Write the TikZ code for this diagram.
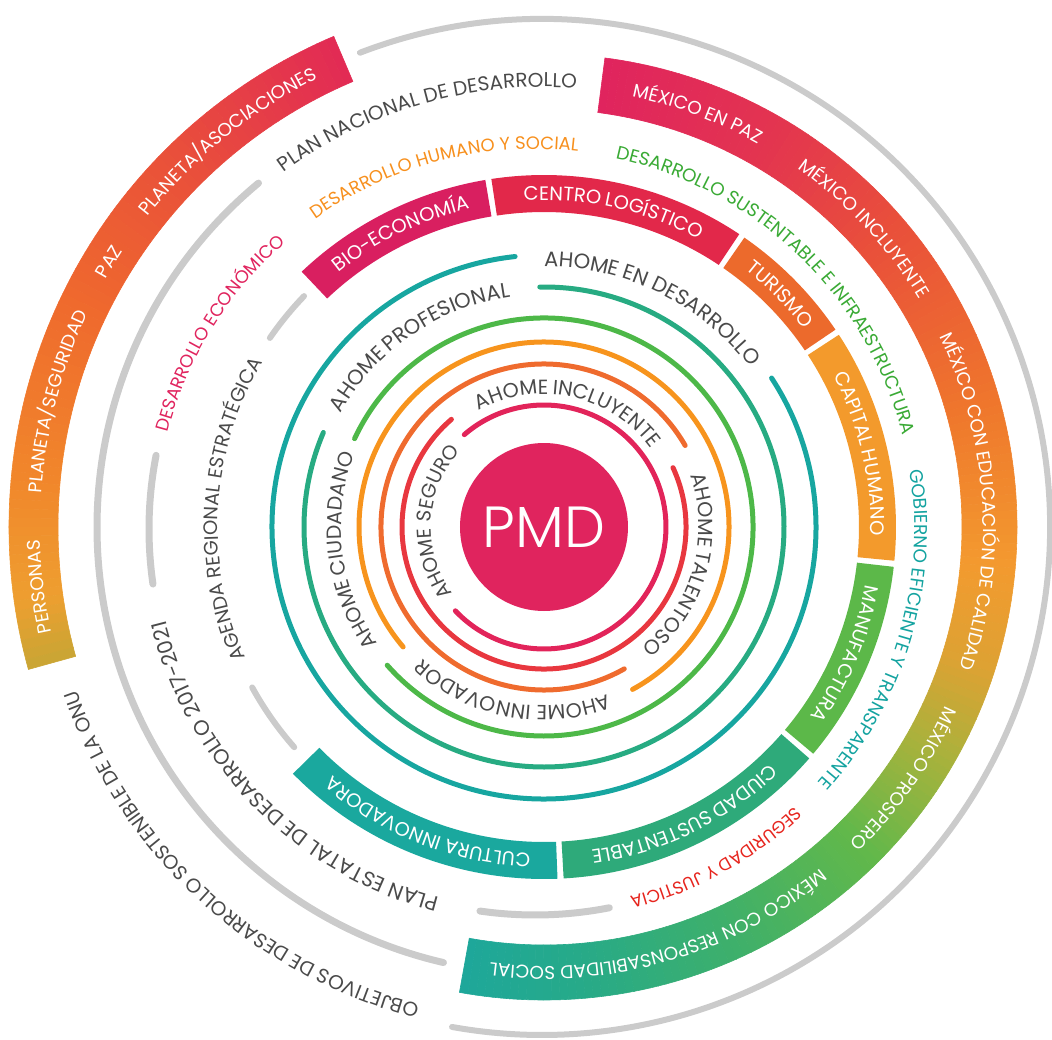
\documentclass[tikz,border=0pt]{standalone}
\usepackage{fontspec}
\newfontfamily\pf{Poppins}
\IfFontExistsTF{Poppins Light}{\newfontfamily\pfl{Poppins Light}}{\newfontfamily\pfl{Poppins}}
\usetikzlibrary{decorations.text}
\definecolor{pmdc}{HTML}{E0245E}
\definecolor{grayline}{HTML}{CBCBCB}
\definecolor{tgray}{HTML}{4A4A4A}
% ring A gradient stops
\definecolor{aA1}{HTML}{E22A55}
\definecolor{aA2}{HTML}{E9503A}
\definecolor{aA3}{HTML}{EF6A2D}
\definecolor{aA4}{HTML}{F1872B}
\definecolor{aA5}{HTML}{EE9E30}
\definecolor{aA6}{HTML}{C8A634}
% ring B gradient stops
\definecolor{bB1}{HTML}{E0245E}
\definecolor{bB2}{HTML}{E33450}
\definecolor{bB3}{HTML}{E9503A}
\definecolor{bB4}{HTML}{EF772C}
\definecolor{bB5}{HTML}{F39A2F}
\definecolor{bB6}{HTML}{DDA233}
\definecolor{bB7}{HTML}{A9B23C}
\definecolor{bB8}{HTML}{62B84A}
\definecolor{bB9}{HTML}{3FB06A}
\definecolor{bB10}{HTML}{27AA88}
\definecolor{bB11}{HTML}{1EA79A}
% ring C text colours
\definecolor{cEco}{HTML}{E0245E}
\definecolor{cHum}{HTML}{F7901E}
\definecolor{cSus}{HTML}{3AAA35}
\definecolor{cGob}{HTML}{14A3A0}
\definecolor{cSeg}{HTML}{E6251E}
% ring D segments
\definecolor{dBio}{HTML}{D91F60}
\definecolor{dCen}{HTML}{E2284A}
\definecolor{dTur}{HTML}{EC6A2C}
\definecolor{dCap}{HTML}{F39A2C}
\definecolor{dMan}{HTML}{5CB849}
\definecolor{dCiu}{HTML}{2EAA7A}
\definecolor{dCul}{HTML}{1AA89E}
% thin rings
\definecolor{rE}{HTML}{17A6A0}
\definecolor{rF}{HTML}{27AB82}
\definecolor{rG}{HTML}{4DB848}
\definecolor{rH}{HTML}{F7941D}
\definecolor{rI}{HTML}{EF6B2E}
\definecolor{rK}{HTML}{E8373F}
\definecolor{rJ}{HTML}{E2245A}

\tikzset{
  grayarc/.style={draw=grayline, line cap=round},
  thinring/.style={line width=5pt, line cap=round},
}

% gradient annular band: rin, rout, a1, a2, c1, c2
\newcommand\gband[6]{%
  \pgfmathtruncatemacro\gbN{max(1,abs(#4-#3))}%
  \foreach \gi in {1,...,\gbN}{%
    \pgfmathsetmacro\gaa{#3+(#4-#3)*(\gi-1)/\gbN}%
    \pgfmathsetmacro\gab{#3+(#4-#3)*\gi/\gbN}%
    \pgfmathtruncatemacro\gpp{100-100*(\gi-0.5)/\gbN}%
    \filldraw[#5!\gpp!#6, line width=0.6pt] (\gaa:#1) arc[start angle=\gaa, end angle=\gab, radius=#1] -- (\gab:#2) arc[start angle=\gab, end angle=\gaa, radius=#2] -- cycle;
  }%
}
% solid annular segment: rin, rout, a1, a2, colour
\newcommand\sband[5]{%
  \fill[#5] (#3:#1) arc[start angle=#3, end angle=#4, radius=#1] -- (#4:#2) arc[start angle=#4, end angle=#3, radius=#2] -- cycle;
}
% text along clockwise arc: r(centre of letters), centre angle, half span, colour, size, text
\newcommand\arctext[6]{%
  \path[decorate, decoration={text along path, text align=center, text color=#4,
      text={|\pf\fontsize{#5}{#5}\selectfont|#6}}]
    ({#2+#3}:{#1-0.35*#5}) arc[start angle={#2+#3}, end angle={#2-#3}, radius={#1-0.35*#5}];
}
\newcommand\gsp{{\hspace*{4pt}}}

\begin{document}
\begin{tikzpicture}[x=1pt,y=1pt]
\useasboundingbox (-544,-512) rectangle (508,527);

% ---------------- Ring A : ONU ----------------
\begin{scope}[shift={(-2,0)}]
  \gband{484}{533}{113}{135}{aA1}{aA2}
  \gband{484}{533}{135}{155}{aA2}{aA3}
  \gband{484}{533}{155}{175}{aA3}{aA4}
  \gband{484}{533}{175}{188}{aA4}{aA5}
  \gband{484}{533}{188}{195.5}{aA5}{aA6}
  \draw[grayarc, line width=6pt] (111:508) arc[start angle=111, end angle=-100.2, radius=508];
  \arctext{508}{186.8}{60}{white}{18.5}{PERSONAS}
  \arctext{508}{165.5}{60}{white}{18.5}{PLANETA/SEGURIDAD}
  \arctext{508}{148.5}{60}{white}{18.5}{PAZ}
  \arctext{508}{129.2}{60}{white}{18.5}{PLANETA/ASOCIACIONES}
  \arctext{500}{227.5}{60}{tgray}{20}{OBJETIVOS DE DESARROLLO SOSTENIBLE DE LA ONU}
\end{scope}

% ---------------- Ring B : Plan Nacional ----------------
\gband{418}{473}{82.6}{60}{bB1}{bB2}
\gband{418}{473}{60}{40}{bB2}{bB3}
\gband{418}{473}{40}{15}{bB3}{bB4}
\gband{418}{473}{15}{-5}{bB4}{bB5}
\gband{418}{473}{-5}{-18}{bB5}{bB6}
\gband{418}{473}{-18}{-30}{bB6}{bB7}
\gband{418}{473}{-30}{-45}{bB7}{bB8}
\gband{418}{473}{-45}{-65}{bB8}{bB9}
\gband{418}{473}{-65}{-85}{bB9}{bB10}
\gband{418}{473}{-85}{-100.3}{bB10}{bB11}
\draw[grayarc, line width=7pt] (129.7:447) arc[start angle=129.7, end angle=257, radius=447];
\arctext{447}{106}{70}{tgray}{20}{PLAN NACIONAL DE DESARROLLO}
\arctext{445.5}{69.6}{60}{white}{18.5}{MÉXICO EN PAZ}
\arctext{445.5}{43}{60}{white}{18.5}{MÉXICO INCLUYENTE}
\arctext{445.5}{3.5}{60}{white}{18.5}{MÉXICO CON EDUCACIÓN DE CALIDAD}
\arctext{445.5}{-35}{60}{white}{18.5}{MÉXICO PROSPERO}
\arctext{445.5}{-74}{60}{white}{18.5}{MÉXICO CON RESPONSABILIDAD SOCIAL}

% ---------------- Ring C : Plan Estatal ----------------
\begin{scope}[shift={(-9,-2)}]
  \draw[grayarc, line width=7pt] (169:386) arc[start angle=169, end angle=188.2, radius=386];
  \draw[grayarc, line width=7pt] (261.8:386) arc[start angle=261.8, end angle=281.1, radius=386];
  \arctext{386}{148.2}{70}{cEco}{18}{DESARROLLO ECONÓMICO}
  \arctext{386}{104.4}{70}{cHum}{18}{DESARROLLO HUMANO Y SOCIAL}
  \arctext{386}{46}{70}{cSus}{18.5}{DESARROLLO SUSTENTABLE E INFRAESTRUCTURA}
  \arctext{386}{-16.5}{70}{cGob}{18.5}{GOBIERNO EFICIENTE Y TRANSPARENTE}
  \arctext{386}{-61.2}{70}{cSeg}{17.5}{SEGURIDAD Y JUSTICIA}
  \arctext{388}{224.7}{70}{tgray}{21}{PLAN ESTATAL DE DESARROLLO 2017-2021}
\end{scope}

% ---------------- Ring D : Agenda Regional ----------------
\sband{315}{352}{133.5}{99.6}{dBio}
\sband{315}{352}{98.6}{56.3}{dCen}
\sband{315}{352}{55.3}{34.1}{dTur}
\sband{315}{352}{33.1}{-5.5}{dCap}
\sband{315}{352}{-6.5}{-40.1}{dMan}
\sband{315}{352}{-41.1}{-86.8}{dCiu}
\sband{315}{352}{-87.8}{-135.5}{dCul}
\draw[grayarc, line width=6pt] (136.1:333) arc[start angle=136.1, end angle=145.4, radius=333];
\draw[grayarc, line width=6pt] (208.8:333) arc[start angle=208.8, end angle=221.4, radius=333];
\arctext{333.5}{116}{70}{white}{19.5}{BIO-ECONOMÍA}
\arctext{333.5}{77.6}{70}{white}{19.5}{CENTRO\gsp LOGÍSTICO}
\arctext{333.5}{44.6}{70}{white}{19.5}{TURISMO}
\arctext{333.5}{13}{70}{white}{19.5}{CAPITAL\gsp HUMANO}
\arctext{333.5}{-22.8}{70}{white}{19.5}{MANUFACTURA}
\arctext{333.5}{-64}{70}{white}{19.5}{CIUDAD\gsp SUSTENTABLE}
\arctext{333.5}{248.6}{70}{white}{19.5}{CULTURA\gsp INNOVADORA}
\arctext{333}{176.6}{70}{tgray}{19.5}{AGENDA REGIONAL ESTRATÉGICA}

% ---------------- thin rings ----------------
\draw[thinring, rE] (96.1:272) arc[start angle=96.1, end angle=393.2, radius=272];
\draw[thinring, rF] (91:240) arc[start angle=91, end angle=-203.2, radius=240];
\draw[thinring, rG] (155:209) arc[start angle=155, end angle=-138.6, radius=209];
\draw[thinring, rH] (-61.4:185) arc[start angle=-61.4, end angle=220.4, radius=185];
\draw[thinring, rI] (30:163) arc[start angle=30, end angle=299.5, radius=163];
\draw[thinring, rK] (24.7:142) arc[start angle=24.7, end angle=-229.3, radius=142];
\draw[thinring, rJ] (130.8:122) arc[start angle=130.8, end angle=-136.6, radius=122];

\arctext{268}{63.8}{90}{tgray}{21}{AHOME\gsp EN DESARROLLO}
\arctext{240}{124.5}{90}{tgray}{21}{AHOME\gsp PROFESIONAL}
\arctext{210}{187}{100}{tgray}{20.5}{AHOME\gsp CIUDADANO}
\arctext{186}{-101}{100}{tgray}{20.5}{AHOME INNOVADOR}
\arctext{162}{-15.7}{110}{tgray}{20.5}{AHOME\gsp TALENTOSO}
\arctext{140}{77.7}{120}{tgray}{20.5}{AHOME\gsp INCLUYENTE}
\arctext{120}{177}{130}{tgray}{20}{AHOME SEGURO}

% ---------------- centre ----------------
\node[circle, fill=pmdc, minimum size=168pt, inner sep=0pt, text=white,
      font=\pfl\fontsize{58}{58}\selectfont] (pmd) at (0,0) {PMD};
\end{tikzpicture}
\end{document}
